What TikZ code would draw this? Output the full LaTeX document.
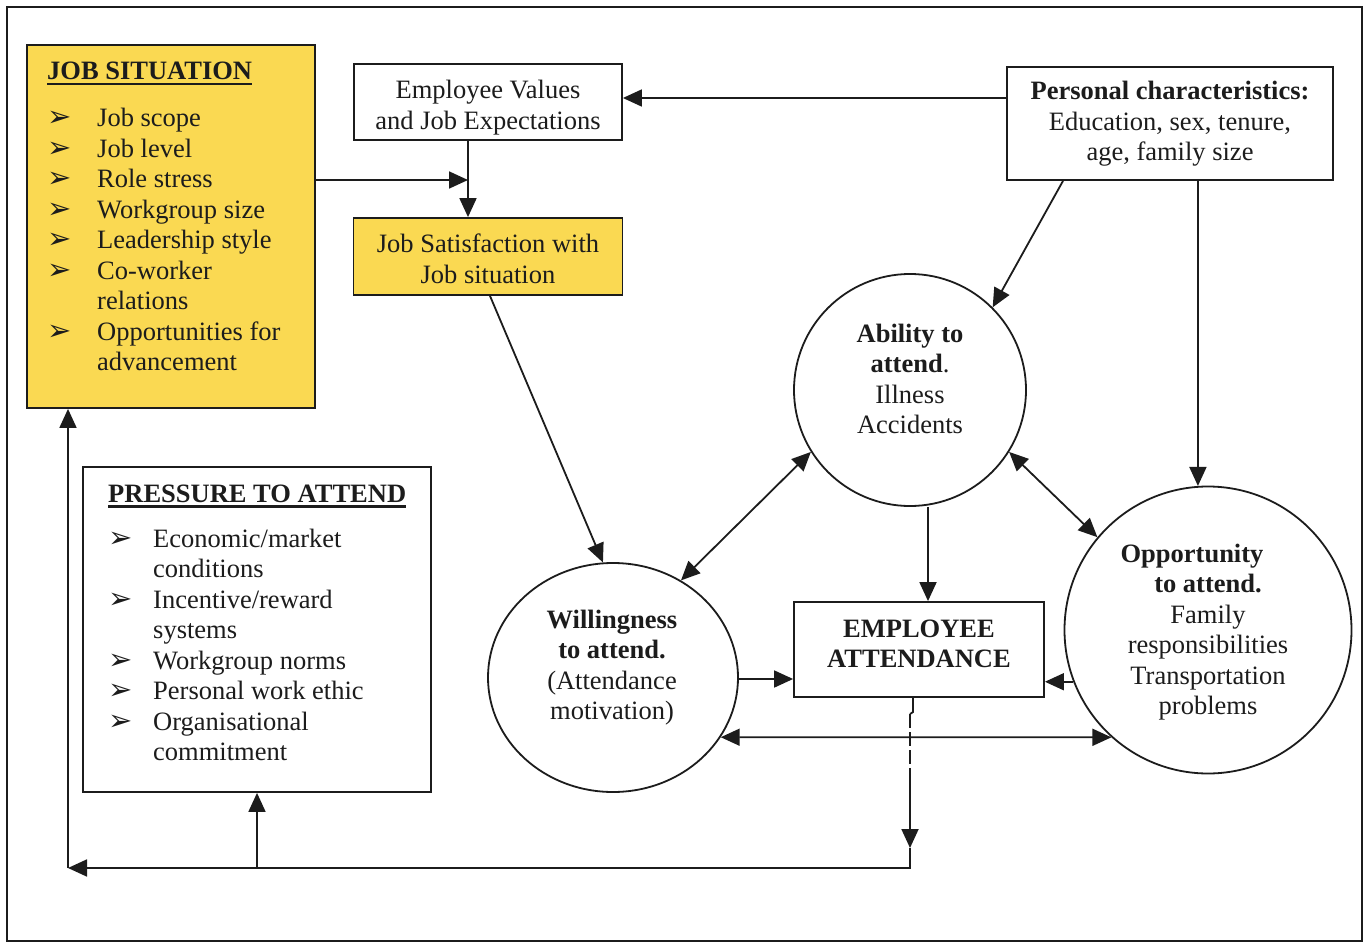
\documentclass[tikz,border=0pt]{standalone}
\usepackage{fontspec}
\setmainfont{Liberation Serif}
\newfontfamily\dingfont{DejaVu Sans}
\usetikzlibrary{arrows.meta,shapes.geometric}

\definecolor{boxyellow}{RGB}{250,217,82}
\definecolor{ink}{RGB}{28,28,28}

% centred stack of lines, baseline on the first line
\newcommand\linesc[1]{\begin{tabular}[t]{@{}c@{}}#1\end{tabular}}
% bold heading with a heavy underline
\newcommand\boxtitle[1]{\setbox0=\hbox{\textbf{#1}}\rlap{\rule[-5.5pt]{\wd0}{2.2pt}}\box0}
% arrowhead bullet in a column of given width
\newcommand\arrowbullet[1]{\makebox[#1][l]{\dingfont\fontsize{29}{29}\selectfont ➢}}

\begin{document}
\begin{tikzpicture}[x=1pt,y=-1pt,
  box/.style={draw=ink,line width=1.8pt,rectangle,inner sep=0pt},
  txt/.style={inner sep=0pt,font=\fontsize{26.5}{30.5}\selectfont,text=ink},
  arr/.style={draw=ink,line width=1.8pt,-{Triangle[length=19pt,width=17pt]}},
  darr/.style={draw=ink,line width=1.8pt,{Triangle[length=19pt,width=17pt]}-{Triangle[length=19pt,width=17pt]}},
  plain/.style={draw=ink,line width=1.8pt},
]
\useasboundingbox (0,0) rectangle (1371,944);
\fill[white] (0,0) rectangle (1371,944);
\draw[ink,line width=2.2pt] (7,7) rectangle (1362,941);

% boxes
\node[box,fill=boxyellow,minimum width=288pt,minimum height=363pt] (jobsit) at (171,226.5) {};
\node[box,minimum width=268pt,minimum height=76pt] (empval) at (488,102) {};
\node[box,fill=boxyellow,minimum width=269pt,minimum height=77pt] (jobsat) at (488,256.5) {};
\node[box,minimum width=326pt,minimum height=113pt] (pers) at (1170,123.5) {};
\node[box,minimum width=348pt,minimum height=325pt] (pressure) at (257,629.5) {};
\node[box,minimum width=250pt,minimum height=95pt] (att) at (919,649.5) {};

% circles
\node[draw=ink,line width=1.8pt,circle,inner sep=0pt,minimum size=232pt] (ability) at (910,390) {};
\node[draw=ink,line width=1.8pt,ellipse,inner sep=0pt,minimum width=250pt,minimum height=229pt] (will) at (613,677.5) {};
\node[draw=ink,line width=1.8pt,circle,inner sep=0pt,minimum size=287pt] (opp) at (1208,630) {};

% texts
\node[txt,anchor=base west] (jobsitTxt) at (47,80) {\begin{tabular}[t]{@{}l@{}l@{}}
\multicolumn{2}{@{}l@{}}{\boxtitle{JOB SITUATION}}\\[16.5pt]
\arrowbullet{50pt}&Job scope\\
\arrowbullet{50pt}&Job level\\
\arrowbullet{50pt}&Role stress\\
\arrowbullet{50pt}&Workgroup size\\
\arrowbullet{50pt}&Leadership style\\
\arrowbullet{50pt}&Co-worker\\
&relations\\
\arrowbullet{50pt}&Opportunities for\\
&advancement
\end{tabular}};

\node[txt,anchor=base west] (pressureTxt) at (108,502) {\begin{tabular}[t]{@{}l@{}l@{}}
\multicolumn{2}{@{}l@{}}{\boxtitle{PRESSURE TO ATTEND}}\\[14.5pt]
\arrowbullet{45pt}&Economic/market\\
&conditions\\
\arrowbullet{45pt}&Incentive/reward\\
&systems\\
\arrowbullet{45pt}&Workgroup norms\\
\arrowbullet{45pt}&Personal work ethic\\
\arrowbullet{45pt}&Organisational\\
&commitment
\end{tabular}};

\node[txt,anchor=base] (empvalTxt) at (488,99) {\linesc{Employee Values\\and Job Expectations}};
\node[txt,anchor=base] (jobsatTxt) at (488,253) {\linesc{Job Satisfaction with\\Job situation}};
\node[txt,anchor=base] (persTxt) at (1170,100) {\linesc{\textbf{Personal characteristics:}\\Education, sex, tenure,\\age, family size}};
\node[txt,anchor=base] (attTxt) at (919,637) {\linesc{\textbf{EMPLOYEE}\\\textbf{ATTENDANCE}}};
\node[txt,anchor=base] (abilityTxt) at (910,342) {\linesc{\textbf{Ability to}\\\textbf{attend}.\\Illness\\Accidents}};
\node[txt,anchor=base] (willTxt) at (612,628) {\linesc{\textbf{Willingness}\\\textbf{to attend.}\\(Attendance\\motivation)}};
\node[txt,anchor=base] (oppTxt) at (1208,562) {\linesc{\textbf{Opportunity}\hspace*{32pt}\\\textbf{to attend.}\\Family\\responsibilities\\Transportation\\problems}};

% connectors
\coordinate (vx) at (468,180);
\draw[arr] (jobsit.east |- vx) -- (vx);
\draw[arr] (empval.south -| vx) -- (jobsat.north -| vx);
\coordinate (py) at (0,98);
\draw[arr] (pers.west |- py) -- (empval.east |- py);
\coordinate (sx) at (490,0);
\draw[arr] (jobsat.south -| sx) -- (will.95);
\coordinate (pa) at (1063,0);
\draw[arr] (pers.south -| pa) -- (ability.45);
\coordinate (po) at (1198,0);
\draw[arr] (pers.south -| po) -- (opp.94);
\draw[darr] (ability.212) -- (will.55);
\draw[darr] (ability.-32) -- (opp.140);
\coordinate (ax) at (928,0);
\draw[arr] (ability.south -| ax) -- (att.north -| ax);
\coordinate (wy) at (0,679);
\draw[arr] (will.east |- wy) -- (att.west |- wy);
\draw[arr] (opp.-159.5) -- (att.east |- opp.-159.5);
\draw[darr] (will.-29) -- (opp.-132.2);

% feedback loop from attendance
\coordinate (fa) at (913,712);
\coordinate (fb) at (910,714);
\coordinate (fc) at (910,782);
\coordinate (fd) at (910,848);
\coordinate (fe) at (910,868);
\coordinate (corner) at (68,868);
\coordinate (px) at (257,868);
\draw[plain] (att.south -| fa) -- (fa) -- (fb);
\draw[plain,dash pattern=on 14pt off 4pt] (fb) -- (fc);
\draw[arr] (fc) -- (fd);
\draw[arr] (fd) -- (fe) -- (corner);
\draw[arr] (corner) -- (jobsit.south -| corner);
\draw[arr] (px) -- (pressure.south);
\end{tikzpicture}
\end{document}
